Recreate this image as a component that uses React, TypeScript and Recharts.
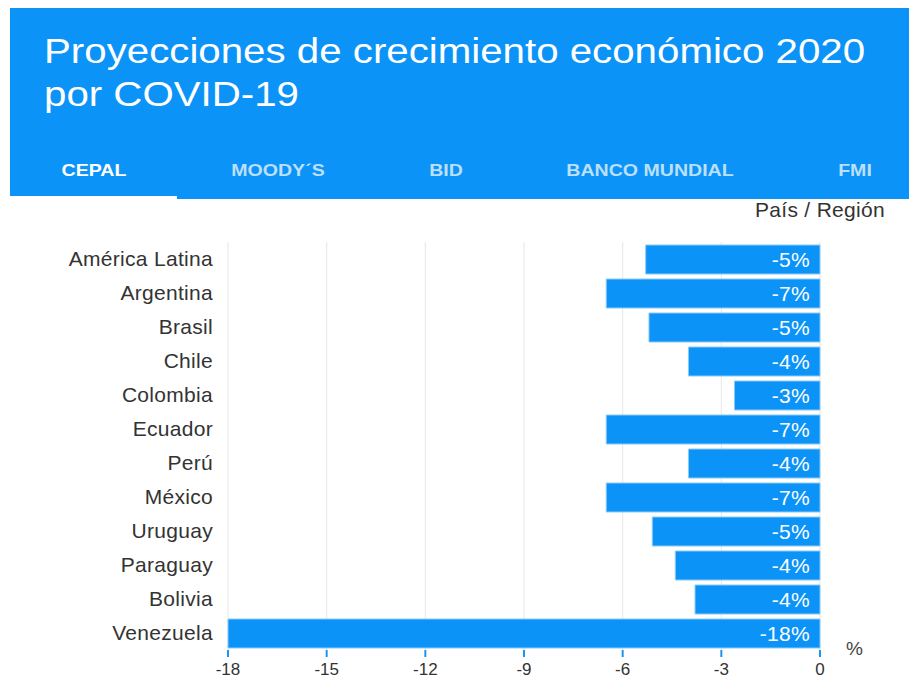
import React from 'react';
import { BarChart, Bar, XAxis, YAxis, CartesianGrid, LabelList } from 'recharts';

const categories = ['América Latina', 'Argentina', 'Brasil', 'Chile', 'Colombia', 'Ecuador', 'Perú', 'México', 'Uruguay', 'Paraguay', 'Bolivia', 'Venezuela'];
const values = [-5.3, -6.5, -5.2, -4.0, -2.6, -6.5, -4.0, -6.5, -5.1, -4.4, -3.8, -18];
const valueLabels = ['-5%', '-7%', '-5%', '-4%', '-3%', '-7%', '-4%', '-7%', '-5%', '-4%', '-4%', '-18%'];
const xTicks = [-18, -15, -12, -9, -6, -3, 0];
const tabs = ['CEPAL', 'MOODY´S', 'BID', 'BANCO MUNDIAL', 'FMI'];
const tabCenters = [94, 278, 446, 650, 855];

const data = categories.map((c, i) => ({ name: c, value: values[i], label: valueLabels[i] }));

const FONT = '"Liberation Sans", Arial, Helvetica, sans-serif';
const BLUE = '#0b93f7';

const renderLabel = (props: any) => {
  const { x, y, width, height, index } = props;
  const right = Math.max(Number(x), Number(x) + Number(width));
  return (
    <text x={right - 10} y={Number(y) + Number(height) / 2} dy="0.36em" textAnchor="end" fill="#fff" fontSize={21} letterSpacing={0.3} fontFamily={FONT}>
      {valueLabels[index]}
    </text>
  );
};

export default function App() {
  return (
    <div style={{ position: 'absolute', left: 0, top: 0, width: 909, height: 681, background: '#fff', fontFamily: FONT, overflow: 'hidden' }}>
      <div style={{ position: 'absolute', left: 10, top: 8, width: 899, height: 191, background: BLUE }} />
      <div style={{ position: 'absolute', left: 10, top: 196, width: 167, height: 3, background: '#fff' }} />
      <div style={{ position: 'absolute', left: 44, top: 29, color: '#fff', fontSize: 35, lineHeight: '43px', whiteSpace: 'nowrap', transform: 'scaleX(1.15)', transformOrigin: 'left top' }}>
        Proyecciones de crecimiento económico 2020<br />por COVID-19
      </div>
      {tabs.map((t, i) => (
        <div key={t} style={{ position: 'absolute', left: tabCenters[i] - 100, width: 200, top: 161, textAlign: 'center', color: i === 0 ? '#fff' : 'rgba(255,255,255,0.72)', fontSize: 17, fontWeight: 'bold', lineHeight: '20px', transform: 'scaleX(1.15)', transformOrigin: 'center top' }}>
          {t}
        </div>
      ))}
      <div style={{ position: 'absolute', right: 24, top: 198, color: '#333', fontSize: 21, letterSpacing: 0.3, lineHeight: '24px' }}>País / Región</div>
      <div style={{ position: 'absolute', left: 846, top: 638, color: '#444', fontSize: 19, lineHeight: '22px' }}>%</div>
      <div style={{ position: 'absolute', left: 0, top: 0 }}>
        <BarChart width={909} height={681} data={data} layout="vertical" margin={{ top: 242, right: 89, bottom: 1, left: 0 }} barSize={29}>
          <CartesianGrid horizontal={false} vertical stroke="#e6e6e6" />
          <XAxis type="number" domain={[-18, 0]} ticks={xTicks} height={30} axisLine={false} tickLine={{ stroke: '#1a96f0', strokeWidth: 2 }} tickSize={7} tickMargin={6} tick={{ fill: '#333', fontSize: 17, fontFamily: FONT }} interval={0} />
          <YAxis type="category" dataKey="name" width={228} axisLine={false} tickLine={false} tickSize={0} tickMargin={15} tick={{ fill: '#333', fontSize: 21, letterSpacing: 0.3, fontFamily: FONT }} interval={0} />
          <Bar dataKey="value" fill={BLUE} stroke="#8ccbf9" strokeWidth={1} isAnimationActive={false}>
            <LabelList dataKey="label" content={renderLabel} />
          </Bar>
        </BarChart>
      </div>
    </div>
  );
}
